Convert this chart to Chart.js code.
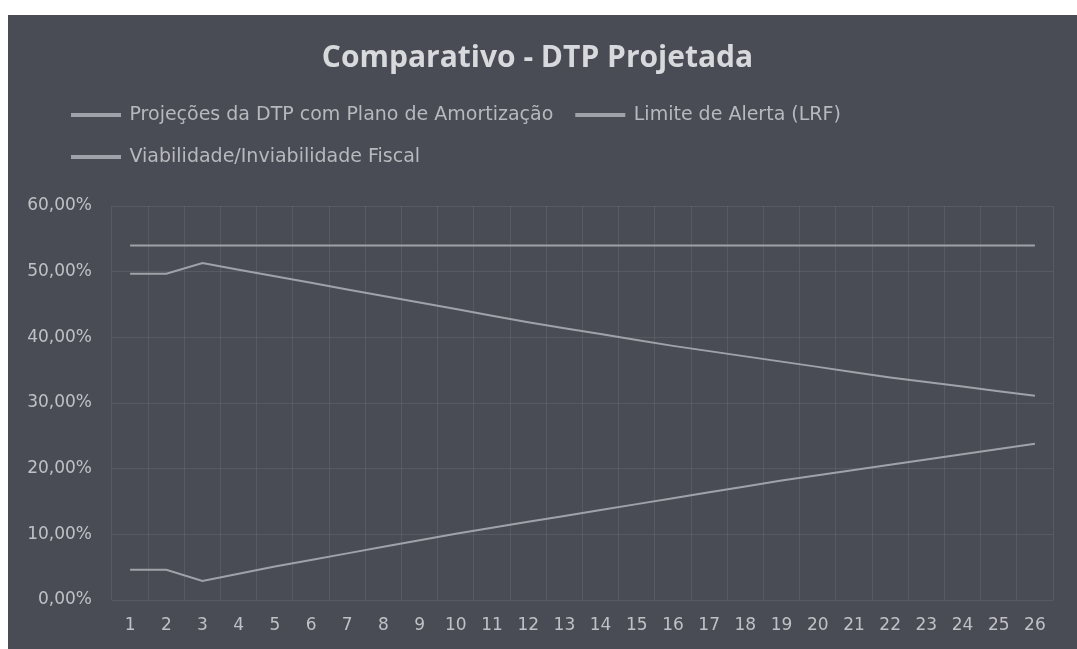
<!DOCTYPE html>
<html lang="pt-BR">
<head>
<meta charset="utf-8">
<title>Comparativo - DTP Projetada</title>
<script src="https://cdn.jsdelivr.net/npm/chart.js@4.4.1/dist/chart.umd.min.js"></script>
<style>
  html, body { margin: 0; padding: 0; background: #ffffff; }
  body { width: 1077px; height: 649px; position: relative; overflow: hidden; }
  #frame {
    position: absolute; left: 8px; top: 15px;
    width: 1069px; height: 634px;
    background: #4a4c55;
  }
  #chart { display: block; }
</style>
</head>
<body>
<div id="frame"><canvas id="chart" width="1069" height="634"></canvas></div>
<script>
// Anos da projeção (eixo X)
const categorias = ['1', '2', '3', '4', '5', '6', '7', '8', '9', '10', '11', '12', '13',
                    '14', '15', '16', '17', '18', '19', '20', '21', '22', '23', '24', '25', '26'];

// Projeções da DTP com Plano de Amortização (% da RCL)
const projecaoDTP = [49.7, 49.7, 51.3, 50.3, 49.3, 48.3, 47.3, 46.3, 45.3, 44.3, 43.3, 42.3, 41.4,
                     40.5, 39.6, 38.7, 37.9, 37.1, 36.3, 35.5, 34.7, 33.9, 33.2, 32.5, 31.8, 31.1];

// Limite de Alerta da LRF (%)
const limiteAlerta = [54, 54, 54, 54, 54, 54, 54, 54, 54, 54, 54, 54, 54,
                      54, 54, 54, 54, 54, 54, 54, 54, 54, 54, 54, 54, 54];

// Margem entre o limite e a DTP projetada (%)
const viabilidade = [4.6, 4.6, 2.9, 4.0, 5.1, 6.1, 7.1, 8.1, 9.1, 10.1, 11.0, 11.9, 12.8,
                     13.7, 14.6, 15.5, 16.4, 17.3, 18.2, 19.0, 19.8, 20.6, 21.4, 22.2, 23.0, 23.8];

// Marcas do eixo Y (%)
const yMin = 0, yMax = 60, yPasso = 10;

const nomesSeries = [
  'Projeções da DTP com Plano de Amortização',
  'Limite de Alerta (LRF)',
  'Viabilidade/Inviabilidade Fiscal'
];

const corLinha = '#a0a2a9';
const corTexto = '#c0c1c6';
const corGrade = 'rgba(175,178,190,0.13)';

// Recuo da legenda para alinhar com a área de plotagem
const recuoLegenda = {
  id: 'recuoLegenda',
  afterLayout(chart) {
    const lg = chart.legend;
    if (lg) { lg.left += 27; lg.right += 27; }
  }
};

const serie = (label, data) => ({
  label, data,
  borderColor: corLinha,
  backgroundColor: corLinha,
  borderWidth: 2,
  pointRadius: 0,
  pointHoverRadius: 0,
  tension: 0,
  fill: false
});

new Chart(document.getElementById('chart'), {
  type: 'line',
  data: {
    labels: categorias,
    datasets: [
      serie(nomesSeries[0], projecaoDTP),
      serie(nomesSeries[1], limiteAlerta),
      serie(nomesSeries[2], viabilidade)
    ]
  },
  plugins: [recuoLegenda],
  options: {
    responsive: false,
    animation: false,
    devicePixelRatio: 1,
    layout: { padding: { left: 14, right: 24, top: 0, bottom: 9 } },
    plugins: {
      title: {
        display: true,
        text: 'Comparativo - DTP Projetada',
        color: '#d8d9dc',
        font: { family: 'Open Sans', size: 30, weight: 'bold', lineHeight: 1.2 },
        padding: { top: 25, bottom: 6.5 }
      },
      legend: {
        display: true,
        position: 'top',
        align: 'start',
        labels: {
          color: '#b7b9be',
          font: { family: 'DejaVu Sans', size: 19 },
          boxWidth: 48,
          boxHeight: 2,
          padding: 23
        }
      },
      subtitle: {
        display: true,
        text: '',
        weight: 500,
        font: { size: 10, lineHeight: 1.2 },
        padding: { top: 0, bottom: 17.5 }
      },
      tooltip: { enabled: false }
    },
    scales: {
      x: {
        offset: true,
        grid: { display: true, offset: true, color: corGrade, lineWidth: 1, drawTicks: false },
        border: { display: false },
        ticks: {
          color: corTexto,
          font: { family: 'DejaVu Sans', size: 17 },
          padding: 15,
          maxRotation: 0,
          autoSkip: false
        },
        afterFit(s) { s.height = 40; }
      },
      y: {
        min: yMin,
        max: yMax,
        grid: { display: true, color: corGrade, lineWidth: 1, drawTicks: false },
        border: { display: false },
        ticks: {
          stepSize: yPasso,
          color: corTexto,
          font: { family: 'DejaVu Sans', size: 17 },
          padding: 20,
          callback: (v) => v.toFixed(2).replace('.', ',') + '%'
        },
        afterFit(s) { s.width = 90; }
      }
    }
  }
});
</script>
</body>
</html>
